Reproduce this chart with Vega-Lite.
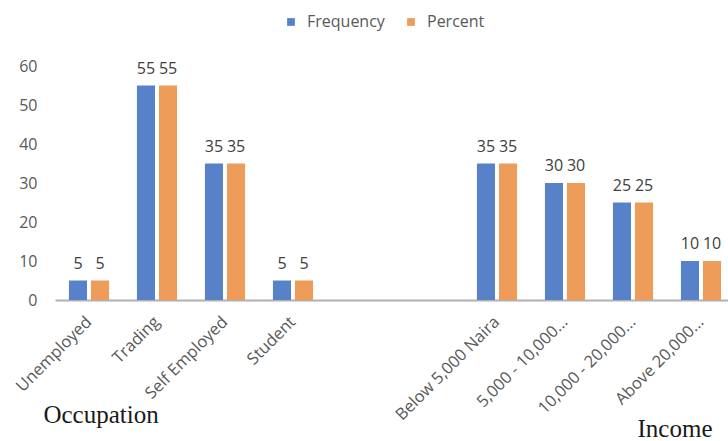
{
  "$schema": "https://vega.github.io/schema/vega-lite/v6.json",
  "autosize": {"type": "none"},
  "padding": {"left": 55, "top": 66, "right": 0, "bottom": 141},
  "width": 673,
  "height": 234,
  "background": "white",
  "config": {
    "view": {"stroke": null},
    "font": "Open Sans",
    "axis": {"labelFont": "Open Sans", "labelColor": "#595959", "labelFontSize": 16}
  },
  "encoding": {
    "x": {
      "field": "category",
      "type": "nominal",
      "scale": {
        "domain": ["Unemployed", "Trading", "Self Employed", "Student", "spacer1", "spacer2", "Below 5,000 Naira", "5,000 - 10,000...", "10,000 - 20,000...", "Above 20,000..."],
        "range": [0, 680],
        "paddingInner": 0.41,
        "paddingOuter": 0.205
      },
      "axis": {
        "title": null,
        "labelAngle": -45,
        "labelAlign": "right",
        "labelBaseline": "middle",
        "labelPadding": 19,
        "labelFontSize": 16.5,
        "ticks": false,
        "domainColor": "#b0b0b0",
        "domainWidth": 2,
        "labelExpr": "indexof(['spacer1','spacer2'], datum.value) >= 0 ? '' : datum.value"
      }
    }
  },
  "layer": [
    {
      "data": {
        "values": [
          {"category": "Unemployed", "series": "Frequency", "value": 5},
          {"category": "Unemployed", "series": "Percent", "value": 5},
          {"category": "Trading", "series": "Frequency", "value": 55},
          {"category": "Trading", "series": "Percent", "value": 55},
          {"category": "Self Employed", "series": "Frequency", "value": 35},
          {"category": "Self Employed", "series": "Percent", "value": 35},
          {"category": "Student", "series": "Frequency", "value": 5},
          {"category": "Student", "series": "Percent", "value": 5},
          {"category": "Below 5,000 Naira", "series": "Frequency", "value": 35},
          {"category": "Below 5,000 Naira", "series": "Percent", "value": 35},
          {"category": "5,000 - 10,000...", "series": "Frequency", "value": 30},
          {"category": "5,000 - 10,000...", "series": "Percent", "value": 30},
          {"category": "10,000 - 20,000...", "series": "Frequency", "value": 25},
          {"category": "10,000 - 20,000...", "series": "Percent", "value": 25},
          {"category": "Above 20,000...", "series": "Frequency", "value": 10},
          {"category": "Above 20,000...", "series": "Percent", "value": 10}
        ]
      },
      "encoding": {
        "xOffset": {
          "field": "series",
          "type": "nominal",
          "scale": {"domain": ["Frequency", "Percent"], "paddingInner": 0.18, "paddingOuter": 0}
        },
        "y": {
          "field": "value",
          "type": "quantitative",
          "scale": {"domain": [0, 60], "nice": false},
          "axis": {
            "title": null,
            "values": [0, 10, 20, 30, 40, 50, 60],
            "labelOverlap": false,
            "labelFlush": false,
            "domain": false,
            "ticks": false,
            "grid": false,
            "labelPadding": 18
          }
        }
      },
      "layer": [
        {
          "mark": {"type": "bar"},
          "encoding": {
            "color": {
              "field": "series",
              "type": "nominal",
              "scale": {"domain": ["Frequency", "Percent"], "range": ["#5782ca", "#ee9c5a"]},
              "legend": {
                "title": null,
                "orient": "none",
                "direction": "horizontal",
                "legendX": 228,
                "legendY": -52,
                "symbolType": "square",
                "symbolSize": 60,
                "symbolStrokeWidth": 0,
                "labelFont": "Open Sans",
                "labelFontSize": 16,
                "labelColor": "#595959",
                "labelOffset": 8,
                "columnPadding": 18
              }
            }
          }
        },
        {
          "mark": {"type": "text", "baseline": "alphabetic", "dy": -12, "fontSize": 16, "font": "Open Sans", "color": "#404040"},
          "encoding": {"text": {"field": "value", "type": "quantitative"}}
        }
      ]
    },
    {
      "data": {
        "values": [
          {"category": "Unemployed", "group": "Occupation", "base": 0},
          {"category": "Above 20,000...", "group": "Income", "base": 0}
        ]
      },
      "encoding": {
        "y": {
          "field": "base",
          "type": "quantitative",
          "scale": {"domain": [0, 60], "nice": false},
          "axis": {
            "title": null,
            "values": [0, 10, 20, 30, 40, 50, 60],
            "labelOverlap": false,
            "labelFlush": false,
            "domain": false,
            "ticks": false,
            "grid": false,
            "labelPadding": 18
          }
        },
        "text": {"field": "group"}
      },
      "layer": [
        {
          "transform": [{"filter": "datum.group === 'Occupation'"}],
          "mark": {"type": "text", "font": "Liberation Serif", "fontSize": 25, "color": "#1a1a1a", "align": "center", "baseline": "alphabetic", "dx": 12, "dy": 123}
        },
        {
          "transform": [{"filter": "datum.group === 'Income'"}],
          "mark": {"type": "text", "font": "Liberation Serif", "fontSize": 25, "color": "#1a1a1a", "align": "center", "baseline": "alphabetic", "dx": -26, "dy": 137}
        }
      ]
    }
  ]
}
